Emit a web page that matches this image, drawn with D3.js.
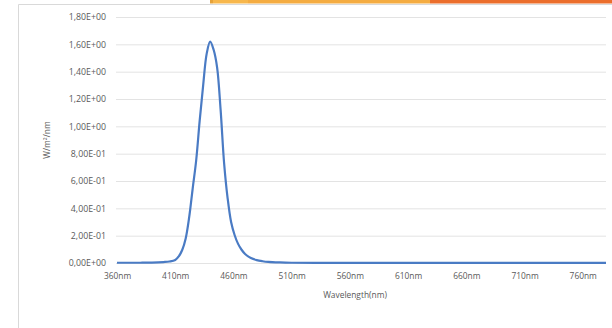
<!DOCTYPE html>
<html>
<head>
<meta charset="utf-8">
<script src="https://cdn.jsdelivr.net/npm/d3@7"></script>
<style>
  html, body { margin: 0; padding: 0; background: #fff; }
  svg { display: block; font-family: "Open Sans", "Liberation Sans", sans-serif; }
</style>
</head>
<body>
<svg id="chart" width="612" height="328"></svg>
<script>
// Spectral irradiance of a blue LED
const wavelengths = [360, 370, 380, 390, 400, 405, 410, 413, 416, 419, 422, 425, 428, 431, 434, 437, 440,
  443, 446, 449, 452, 455, 458, 461, 464, 467, 470, 475, 480, 485, 490, 500, 510, 530, 560, 610, 660, 710, 760, 780];
const irradiance = [0.002, 0.002, 0.002, 0.003, 0.007, 0.011, 0.022, 0.048, 0.095, 0.18, 0.335, 0.545, 0.75, 1.04, 1.30, 1.53, 1.62,
  1.56, 1.43, 1.12, 0.73, 0.475, 0.30, 0.205, 0.14, 0.097, 0.066, 0.036, 0.021, 0.013, 0.008, 0.004, 0.002, 0.001, 0.001, 0.001, 0.001, 0.001, 0.001, 0.001];

const xTicks = [360, 410, 460, 510, 560, 610, 660, 710, 760];
const yTicks = [0, 0.2, 0.4, 0.6, 0.8, 1.0, 1.2, 1.4, 1.6, 1.8];
const yTickLabels = ["0,00E+00", "2,00E-01", "4,00E-01", "6,00E-01", "8,00E-01",
  "1,00E+00", "1,20E+00", "1,40E+00", "1,60E+00", "1,80E+00"];

// Banner segments along the top edge: [x0, x1, colour]
const bannerSegments = [[210, 213, "#e6a23a"], [213, 248, "#f7b74c"], [248, 430, "#f4ac42"], [430, 612, "#eb6e2d"]];

const svg = d3.select("#chart");

svg.selectAll("rect.banner").data(bannerSegments).enter().append("rect")
  .attr("class", "banner")
  .attr("x", d => d[0]).attr("y", 0)
  .attr("width", d => d[1] - d[0]).attr("height", 3.5)
  .attr("fill", d => d[2]);

// chart area frame (left and top edges visible)
svg.append("path")
  .attr("d", "M18.5,340 V4.5 H620")
  .attr("fill", "none").attr("stroke", "#d9d9d9").attr("stroke-width", 1);

const x = d3.scaleLinear().domain([360, 780]).range([117, 606]);
const y = d3.scaleLinear().domain([0, 1.8]).range([263, 17]);

// horizontal gridlines
svg.append("g")
  .attr("transform", "translate(116,0)")
  .call(d3.axisLeft(y).tickValues(yTicks).tickSize(-(606 - 116)).tickFormat(""))
  .call(g => g.select(".domain").remove())
  .call(g => g.selectAll("line").attr("stroke", "#e3e3e3").attr("stroke-width", 1));

// y tick labels
svg.append("g")
  .attr("transform", "translate(106,0)")
  .call(d3.axisLeft(y).tickValues(yTicks).tickSize(0).tickPadding(0)
    .tickFormat((d, i) => yTickLabels[i]))
  .call(g => g.select(".domain").remove())
  .call(g => g.selectAll("text").attr("fill", "#595959").attr("font-size", 8.8)
    .attr("font-family", "'Open Sans', sans-serif"));

// x tick labels
svg.append("g")
  .attr("transform", "translate(0,263)")
  .call(d3.axisBottom(x).tickValues(xTicks).tickSize(0).tickPadding(10)
    .tickFormat(d => d + "nm"))
  .call(g => g.select(".domain").remove())
  .call(g => g.selectAll("text").attr("fill", "#595959").attr("font-size", 8.4)
    .attr("font-family", "'Open Sans', sans-serif"));

// axis titles
svg.append("text")
  .attr("x", 355).attr("y", 298)
  .attr("text-anchor", "middle").attr("fill", "#595959").attr("font-size", 8.4)
  .text("Wavelength(nm)");

svg.append("text")
  .attr("transform", "translate(50,140) rotate(-90)")
  .attr("text-anchor", "middle").attr("fill", "#595959").attr("font-size", 8.4)
  .text("W/m²/nm");

// spectrum line
const points = wavelengths.map((w, i) => [w, irradiance[i]]);
svg.append("path")
  .datum(points)
  .attr("fill", "none")
  .attr("stroke", "#4a7bc4")
  .attr("stroke-width", 2.2)
  .attr("stroke-linejoin", "round")
  .attr("d", d3.line().x(d => x(d[0])).y(d => y(d[1])).curve(d3.curveCatmullRom.alpha(0.5)));
</script>
</body>
</html>
